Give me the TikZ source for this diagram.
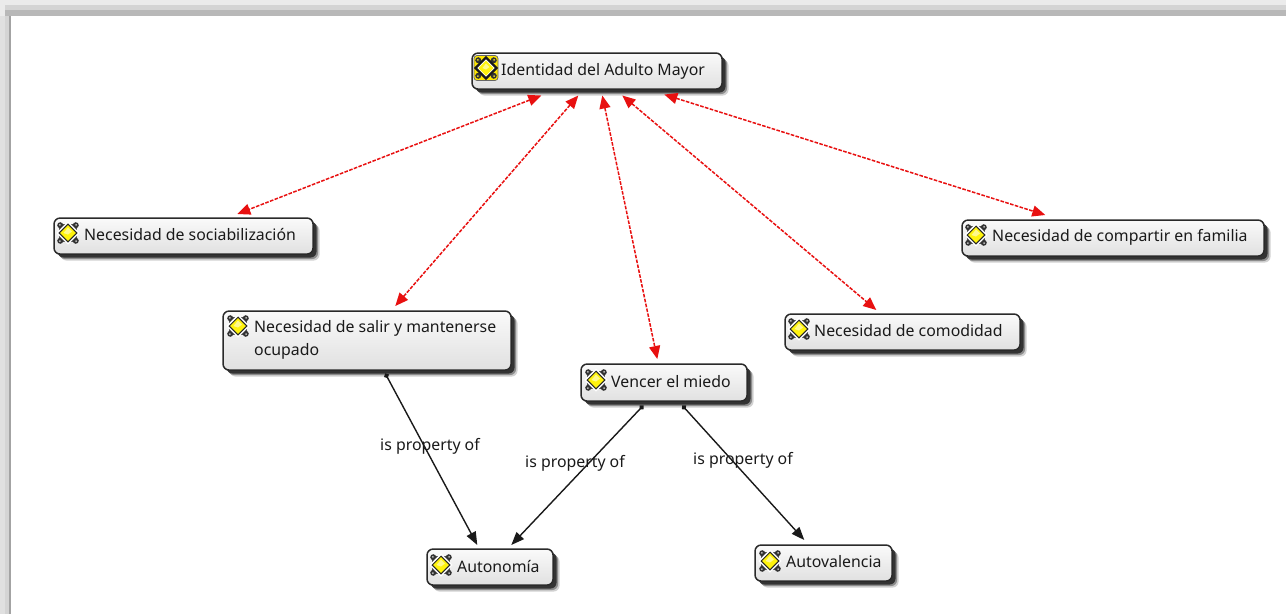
\documentclass[tikz,border=0pt]{standalone}
\usepackage{fontspec}
\setmainfont{Noto Sans}
\usetikzlibrary{arrows.meta,shadows,calc}
\definecolor{ink}{HTML}{1A1A1A}
\definecolor{edge}{HTML}{2A2A2A}
\definecolor{redlink}{HTML}{E81010}
\tikzset{
  x=1pt,y=-1pt,
  concept/.style={draw=edge,line width=1.5pt,rounded corners=6pt,top color=white!98!black,bottom color=white!88!black,
    inner sep=0pt,anchor=north west,
    general shadow={shadow xshift=6.5pt,shadow yshift=-6.5pt,fill=black!18,draw=none},
    general shadow={shadow xshift=5pt,shadow yshift=-5pt,fill=black!45,draw=none},
    general shadow={shadow xshift=3.5pt,shadow yshift=-3.5pt,fill=black!80,draw=none}},
  conceptlabel/.style={anchor=west,inner sep=0pt,text=ink,font=\fontsize{15.85}{23}\selectfont,align=left},
  linklabel/.style={inner sep=0pt,text=ink,font=\fontsize{15.85}{19}\selectfont},
  redarrow/.style={draw=redlink,line width=1.5pt,dash pattern=on 3.6pt off 1.4pt,{Triangle[length=13pt,width=11pt,fill=redlink]}-{Triangle[length=13pt,width=11pt,fill=redlink]}},
  blackarrow/.style={draw=ink,line width=1.4pt,{Circle[length=5pt,fill=ink]}-{Triangle[length=13pt,width=10pt,fill=ink]}},
  pics/cmapicon/.style={code={
    \foreach \a in {45,135,225,315}{
      \draw[black!70,line width=2pt,rotate=\a] (5.5,-6) -- (9.5,-2) (5.5,6) -- (9.5,2);
      \fill[black!80,rotate=\a] (11,0) circle (3pt);
      \fill[black!30,rotate=\a] (11.4,0) circle (1pt);
    }
    \draw[white,line width=2.2pt] (-10,0) -- (0,-10) -- (10,0) -- (0,10) -- cycle;
    \draw[black!85,line width=1pt,fill=yellow!95!white] (-8.8,0) -- (0,-8.8) -- (8.8,0) -- (0,8.8) -- cycle;
    \fill[white!55!yellow] (-4.5,0) -- (0,-5.5) -- (4,-1.5) -- (0,1.5) -- cycle;
  }},
  pics/rooticon/.style={code={
    \fill[yellow!90!orange,draw=black!60,line width=.7pt,rounded corners=3pt] (-12,-12.5) rectangle (12,12.5);
    \foreach \a in {45,135,225,315}{
      \fill[black!80,rotate=\a] (11,0) circle (3pt);
      \fill[yellow!80!black,rotate=\a] (11.4,0) circle (1pt);
    }
    \draw[black!90,line width=2.2pt,fill=white] (-10.5,0) -- (0,-10.5) -- (10.5,0) -- (0,10.5) -- cycle;
    \fill[yellow!95!white] (-7.5,0) -- (0,-7.5) -- (7.5,0) -- (0,7.5) -- cycle;
    \fill[white!55!yellow] (-3.5,0) -- (0,-4.5) -- (3.5,-1) -- (0,1.5) -- cycle;
  }}
}
\begin{document}
\begin{tikzpicture}
\useasboundingbox (0,0) rectangle (1286,614);
% page frame
\fill[white] (0,0) rectangle (1286,614);
\fill[black!8] (0,0) rectangle (1286,5);
\fill[black!17] (0,5) rectangle (1286,10);
\fill[black!28] (5,10) rectangle (1286,16);
\fill[black!12] (0,16) rectangle (5,614);
\fill[black!8] (0,0) rectangle (5,16);
\fill[black!17] (5,16) rectangle (9,614);
\fill[black!36] (9,16) rectangle (11,614);
% concepts
\node[concept,minimum width=250pt,minimum height=36pt] (root) at (471.3,52.3) {};
\node[concept,minimum width=259pt,minimum height=36pt] (soc) at (53.3,217.3) {};
\node[concept,minimum width=288pt,minimum height=59pt] (sal) at (222.3,310.3) {};
\node[concept,minimum width=235pt,minimum height=36pt] (com) at (784.3,313.3) {};
\node[concept,minimum width=302pt,minimum height=36pt] (fam) at (961.3,219.3) {};
\node[concept,minimum width=166pt,minimum height=37pt] (ven) at (580.3,363.3) {};
\node[concept,minimum width=126pt,minimum height=36pt] (aut) at (426.3,548.3) {};
\node[concept,minimum width=137pt,minimum height=36pt] (val) at (754.3,544.3) {};
% icons
\pic at (486,68) {rooticon};
\pic at (68,233) {cmapicon};
\pic at (238,326) {cmapicon};
\pic at (799,329) {cmapicon};
\pic at (976,235) {cmapicon};
\pic at (596,380) {cmapicon};
\pic at (441,565) {cmapicon};
\pic at (770,561) {cmapicon};
% labels
\node[conceptlabel] (troot) at (501,71) {Identidad del Adulto Mayor};
\node[conceptlabel] (tsoc) at (84,234.5) {Necesidad de sociabilización};
\node[conceptlabel] (tsal) at (254,340) {Necesidad de salir y mantenerse\\ocupado};
\node[conceptlabel] (tcom) at (814,330.5) {Necesidad de comodidad};
\node[conceptlabel] (tfam) at (992,237) {Necesidad de compartir en familia};
\node[conceptlabel] (tven) at (611,381.5) {Vencer el miedo};
\node[conceptlabel] (taut) at (457,566.5) {Autonomía};
\node[conceptlabel] (tval) at (786,561.5) {Autovalencia};
% red links
\draw[redarrow] ([xshift=70pt,yshift=-5.7pt]root.south west) -- ([xshift=184pt,yshift=3.3pt]soc.north west);
\draw[redarrow] ([xshift=107pt,yshift=-5.7pt]root.south west) -- ([xshift=173pt,yshift=4.3pt]sal.north west);
\draw[redarrow] ([xshift=131pt,yshift=-5.7pt]root.south west) -- ([xshift=77pt,yshift=4.3pt]ven.north west);
\draw[redarrow] ([xshift=151pt,yshift=-5.7pt]root.south west) -- ([xshift=92pt,yshift=3.3pt]com.north west);
\draw[redarrow] ([xshift=193pt,yshift=-4.7pt]root.south west) -- ([xshift=84pt,yshift=4.3pt]fam.north west);
% black links
\draw[blackarrow] ([xshift=163pt,yshift=-2.7pt]sal.south west) -- ([xshift=51pt,yshift=3.3pt]aut.north west);
\draw[blackarrow] ([xshift=63pt,yshift=-3.7pt]ven.south west) -- ([xshift=85pt,yshift=3.3pt]aut.north west);
\draw[blackarrow] ([xshift=102pt,yshift=-3.7pt]ven.south west) -- ([xshift=50pt,yshift=4.3pt]val.north west);
\node[linklabel] (l1) at (430,446) {is property of};
\node[linklabel] (l2) at (575,463) {is property of};
\node[linklabel] (l3) at (743,460) {is property of};
\end{tikzpicture}
\end{document}
